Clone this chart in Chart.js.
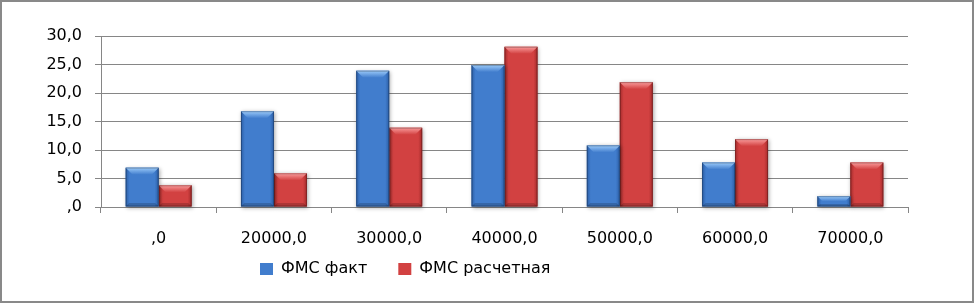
<!DOCTYPE html>
<html>
<head>
<meta charset="utf-8">
<script src="https://cdn.jsdelivr.net/npm/chart.js@4.4.1/dist/chart.umd.min.js"></script>
<style>
  html, body { margin: 0; padding: 0; background: #fff; }
  #frame { width: 974px; height: 303px; box-sizing: border-box; border: 2px solid #898989; background: #fff; }
  #fmsChart { display: block; }
</style>
</head>
<body>
<div id="frame"><canvas id="fmsChart" width="970" height="299"></canvas></div>
<script>
// categories and values
const categories = [',0', '20000,0', '30000,0', '40000,0', '50000,0', '60000,0', '70000,0'];
const factValues = [6.9, 16.8, 23.9, 24.9, 10.8, 7.8, 1.9];
const calcValues = [3.8, 5.9, 13.9, 28.1, 21.9, 11.9, 7.8];
const yTickValues = [0, 5, 10, 15, 20, 25, 30];
const yTickLabels = [',0', '5,0', '10,0', '15,0', '20,0', '25,0', '30,0'];

const FONT = { family: '"DejaVu Sans", sans-serif', size: 16 };

// colours for the bevelled bars: body, dark edge, light top
const palettes = [
    { body: '#417dcd', edge: '#2b5ea6', light: '#9ccbfa' },
    { body: '#d24141', edge: '#a42b2b', light: '#fa9c9c' }
];

// draws the Excel-like bevel on top of each bar, using the bar elements from the library
const bevelBars = {
    id: 'bevelBars',
    afterDatasetDraw(chart, args) {
        const ctx = chart.ctx;
        const pal = palettes[args.index];
        args.meta.data.forEach(bar => {
            const p = bar.getProps(['x', 'y', 'base', 'width'], true);
            const l = p.x - p.width / 2, r = p.x + p.width / 2;
            const t = Math.min(p.y, p.base), b = Math.max(p.y, p.base);
            const w = r - l, h = b - t;
            if (h <= 0) return;
            const bv = Math.min(7, h / 2, w / 2);

            // body with darker sides
            ctx.save();
            ctx.shadowColor = 'rgba(0,0,0,0.35)';
            ctx.shadowBlur = 4;
            ctx.shadowOffsetX = 1;
            ctx.shadowOffsetY = 1;
            const g = ctx.createLinearGradient(l, 0, r, 0);
            g.addColorStop(0, pal.edge);
            g.addColorStop(0.12, pal.body);
            g.addColorStop(0.88, pal.body);
            g.addColorStop(1, pal.edge);
            ctx.fillStyle = g;
            ctx.fillRect(l, t, w, h);
            ctx.restore();

            ctx.save();
            // top bevel
            const tg = ctx.createLinearGradient(0, t, 0, t + bv);
            tg.addColorStop(0, pal.light);
            tg.addColorStop(1, pal.body);
            ctx.fillStyle = tg;
            ctx.beginPath();
            ctx.moveTo(l, t);
            ctx.lineTo(r, t);
            ctx.lineTo(r - bv, t + bv);
            ctx.lineTo(l + bv, t + bv);
            ctx.closePath();
            ctx.fill();
            // bottom shade
            ctx.fillStyle = 'rgba(0,0,0,0.18)';
            ctx.beginPath();
            ctx.moveTo(l, b);
            ctx.lineTo(r, b);
            ctx.lineTo(r - bv / 2, b - bv / 2);
            ctx.lineTo(l + bv / 2, b - bv / 2);
            ctx.closePath();
            ctx.fill();
            // thin outline
            ctx.strokeStyle = 'rgba(0,0,0,0.25)';
            ctx.lineWidth = 1;
            ctx.strokeRect(l + 0.5, t + 0.5, w - 1, h - 1);
            ctx.restore();
        });
    }
};

// move the legend row to where it sits in the original
const legendPlace = {
    id: 'legendPlace',
    afterLayout(chart) {
        const lg = chart.legend;
        const shift = lg.left + lg.options.labels.padding - 258;
        lg.left -= shift;
        lg.right -= shift;
        lg.top = chart.chartArea.bottom + 23;
        lg.height = 64;
        lg.bottom = lg.top + lg.height;
    }
};

const ctx = document.getElementById('fmsChart').getContext('2d');
const fmsChart = new Chart(ctx, {
    type: 'bar',
    data: {
        labels: categories,
        datasets: [
            { label: 'ФМС факт', data: factValues, backgroundColor: palettes[0].body, borderWidth: 0 },
            { label: 'ФМС расчетная', data: calcValues, backgroundColor: palettes[1].body, borderWidth: 0 }
        ]
    },
    options: {
        responsive: false,
        animation: false,
        devicePixelRatio: 1,
        layout: { padding: { left: 0, right: 64, top: 34, bottom: 14 } },
        datasets: { bar: { categoryPercentage: 0.572, barPercentage: 1 } },
        scales: {
            x: {
                grid: { display: true, drawOnChartArea: false, drawTicks: true, tickLength: 6, color: '#868686', offset: true },
                border: { display: true, color: '#868686', width: 1 },
                ticks: { color: '#000', font: FONT, padding: 16, maxRotation: 0, autoSkip: false },
                afterFit(scale) { scale.height = 44; }
            },
            y: {
                min: 0,
                max: 30,
                afterBuildTicks(scale) { scale.ticks = yTickValues.map(v => ({ value: v })); },
                grid: { color: '#868686', tickLength: 6, drawTicks: true },
                border: { display: true, color: '#868686', width: 1 },
                ticks: {
                    color: '#000',
                    font: FONT,
                    padding: 13,
                    callback: (value) => yTickLabels[yTickValues.indexOf(value)]
                },
                afterFit(scale) { scale.width = 99; }
            }
        },
        plugins: {
            legend: {
                position: 'bottom',
                align: 'start',
                maxHeight: 36,
                labels: { color: '#000', font: FONT, boxWidth: 13, boxHeight: 12, padding: 31 }
            },
            tooltip: { enabled: false }
        }
    },
    plugins: [bevelBars, legendPlace]
});
</script>
</body>
</html>
